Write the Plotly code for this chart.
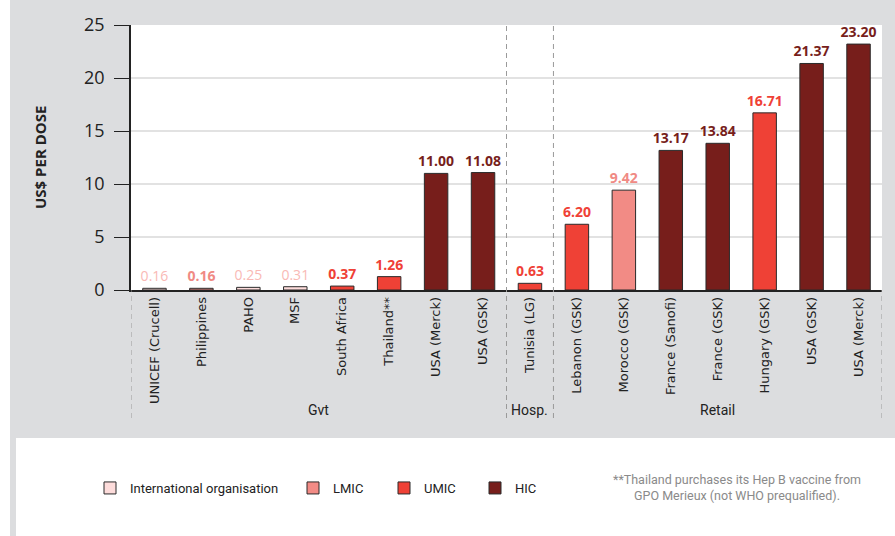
import plotly.graph_objects as go

categories = ["UNICEF (Crucell)", "Philippines", "PAHO", "MSF", "South Africa", "Thailand**",
              "USA (Merck)", "USA (GSK)", "Tunisia (LG)", "Lebanon (GSK)", "Morocco (GSK)",
              "France (Sanofi)", "France (GSK)", "Hungary (GSK)", "USA (GSK)", "USA (Merck)"]
values = [0.16, 0.16, 0.25, 0.31, 0.37, 1.26, 11.00, 11.08, 0.63, 6.20, 9.42,
          13.17, 13.84, 16.71, 21.37, 23.20]
income = ["International organisation", "LMIC", "International organisation", "International organisation",
          "UMIC", "UMIC", "HIC", "HIC", "UMIC", "UMIC", "LMIC", "HIC", "HIC", "UMIC", "HIC", "HIC"]
groups = [("Gvt", 0, 7), ("Hosp.", 8, 8), ("Retail", 9, 15)]
legend_order = ["International organisation", "LMIC", "UMIC", "HIC"]

bar_colors = {"International organisation": "#fddcdb", "LMIC": "#f28b85",
              "UMIC": "#ef4136", "HIC": "#771e1b"}
label_colors = {"International organisation": "#f9b9b5", "LMIC": "#f08a84",
                "UMIC": "#ef4136", "HIC": "#771e1b"}

COND = "Roboto"

fig = go.Figure()
for g in legend_order:
    idx = [i for i, c in enumerate(income) if c == g]
    fig.add_trace(go.Bar(
        x=idx, y=[values[i] for i in idx], name=g, width=0.5,
        legend="legend" if g == legend_order[0] else "legend2",
        marker=dict(color=bar_colors[g], line=dict(color="#2a2a2a", width=1)),
        text=[f"{values[i]:.2f}" for i in idx], textposition="outside", constraintext="none",
        textfont=dict(color=label_colors[g], size=14, family="Open Sans",
                      weight="normal" if g == legend_order[0] else "bold"),
        cliponaxis=False, hoverinfo="skip"))

L, R, T, B = 131, 13, 25, 246
W, H = 895, 536
pw, ph = W - L - R, H - T - B
def px(x):
    return (x - L) / pw
def py(y):
    return (H - B - y) / ph

shapes = [
    dict(type="rect", xref="paper", yref="paper", x0=px(16), x1=px(897), y0=py(438), y1=py(538),
         fillcolor="white", line=dict(width=0), layer="below"),
    dict(type="rect", xref="paper", yref="paper", x0=px(-2), x1=px(10), y0=py(-2), y1=py(538),
         fillcolor="white", line=dict(width=0), layer="below"),
]
for xv in [7.5, 8.5]:
    shapes.append(dict(type="line", xref="x", yref="paper", x0=xv, x1=xv, y0=py(418), y1=1,
                       line=dict(color="#9a9a9a", width=1, dash="5px,4px")))
for xv in [-0.5, 15.5]:
    shapes.append(dict(type="line", xref="x", yref="paper", x0=xv, x1=xv, y0=py(418), y1=0,
                       line=dict(color="#9a9a9a", width=1, dash="5px,4px")))

annotations = []
for name, a, b in groups:
    annotations.append(dict(x=(a + b) / 2, xref="x", y=py(410), yref="paper", text=name,
                            xanchor="center", yanchor="middle",
                            showarrow=False, font=dict(family=COND, size=14, color="#222")))
annotations.append(dict(x=px(40), xref="paper", y=py(158), yref="paper", text="<b>US$ PER DOSE</b>",
                        textangle=-90, showarrow=False, xanchor="center", yanchor="middle",
                        font=dict(family="Open Sans", size=15, color="#222")))
annotations.append(dict(x=px(737), xref="paper", y=py(488), yref="paper",
                        text="**Thailand purchases its Hep B vaccine from<br>GPO Merieux (not WHO prequalified).",
                        showarrow=False, align="center", xanchor="center", yanchor="middle",
                        font=dict(family=COND, size=12.5, color="#8a8a8a")))

legend_common = dict(orientation="h", xanchor="left", y=py(488), yanchor="middle",
                     font=dict(family=COND, size=13, color="#222"),
                     bgcolor="rgba(0,0,0,0)", traceorder="normal", itemwidth=30)

fig.update_layout(
    width=W, height=H, margin=dict(l=L, r=R, t=T, b=B),
    paper_bgcolor="#dcdddf", plot_bgcolor="white",
    showlegend=True,
    legend=dict(x=px(90), **legend_common),
    legend2=dict(x=px(293), entrywidth=46, entrywidthmode="pixels", **legend_common),
    shapes=shapes, annotations=annotations,
    xaxis=dict(range=[-0.5, 15.5], tickmode="array", tickvals=list(range(len(categories))),
               ticktext=categories, tickangle=-90, showgrid=False, zeroline=False,
               showline=True, linecolor="#222", linewidth=1.5, ticks="",
               tickfont=dict(family="DejaVu Sans", size=13, color="#222")),
    yaxis=dict(range=[0, 25], tickvals=[0, 5, 10, 15, 20, 25], showgrid=True, gridcolor="#e2e2e2",
               gridwidth=1.5, zeroline=False, showline=True, linecolor="#222", linewidth=1.5,
               ticks="outside", ticklen=15, tickcolor="#222", tickwidth=1, ticklabelstandoff=6,
               tickfont=dict(family="Open Sans", size=18, color="#222")),
)
fig.write_html("out.html", config={"displayModeBar": False},
               post_script="document.body.style.margin='0';")
